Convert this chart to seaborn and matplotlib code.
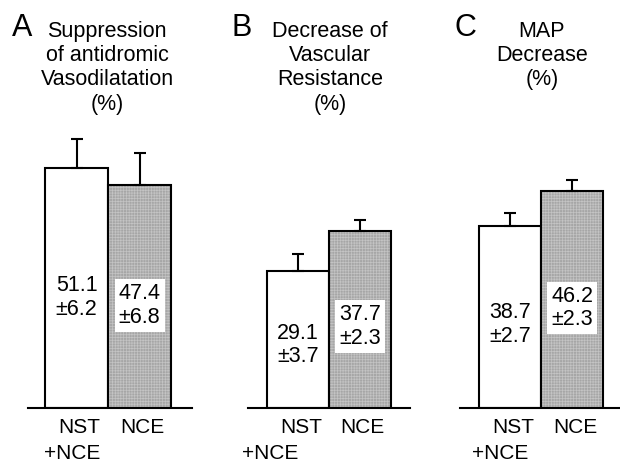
import matplotlib
matplotlib.use('Agg')
import matplotlib.pyplot as plt
import seaborn as sns
from matplotlib.colors import to_rgba

# Datos por panel
letras = ['A', 'B', 'C']
titulos = ['Suppression\nof antidromic\nVasodilatation\n(%)',
           'Decrease of\nVascular\nResistance\n(%)',
           'MAP\nDecrease\n(%)']
grupos = ['NST+NCE', 'NCE']
medias_A = [51.1, 47.4]
sem_A = [6.2, 6.8]
medias_B = [29.1, 37.7]
sem_B = [3.7, 2.3]
medias_C = [38.7, 46.2]
sem_C = [2.7, 2.3]

medias = [medias_A, medias_B, medias_C]
sems = [sem_A, sem_B, sem_C]

sns.set_style('white')
plt.rcParams['font.family'] = ['Liberation Sans', 'DejaVu Sans']
plt.rcParams['text.color'] = 'black'
plt.rcParams['hatch.linewidth'] = 0.5

W, H = 620, 463
fig = plt.figure(figsize=(W / 100, H / 100), dpi=100)

# layout en pixeles: (izquierda, ancho, xlim)
paneles = [(28, 164, (-0.77, 1.83)),
           (248, 162, (-0.81, 1.81)),
           (460, 160, (-0.81, 1.77))]
centros_titulo = [107, 330, 542]
x_letra = [12, 231, 454]
off_nce2 = [-3, -20, -7]  # desplazamiento de "+NCE" (pt)

base_px = 408
px_por_unidad = 4.7
ymax = 60

for i in range(3):
    left, width, xl = paneles[i]
    ax = fig.add_axes([left / W, (H - base_px) / H, width / W,
                       ymax * px_por_unidad / H])
    sns.barplot(x=grupos, y=medias[i], hue=grupos, palette=['white', '#a6a6a6'],
                legend=False, width=1.0, edgecolor='black', linewidth=1.5,
                saturation=1, ax=ax)
    gris = ax.patches[1]
    gris.set_hatch('++++++')
    gris._hatch_color = to_rgba('#c4c4c4')

    ax.errorbar([0, 1], medias[i], yerr=[[0, 0], sems[i]], fmt='none',
                ecolor='black', elinewidth=1.5, capsize=4.5, capthick=1.5,
                clip_on=False, zorder=5)

    for j, (m, s) in enumerate(zip(medias[i], sems[i])):
        caja = None
        if j == 1:
            caja = dict(facecolor='white', edgecolor='none', pad=3)
        ax.text(j, m * 0.46, f'{m}\n±{s}', ha='center', va='center',
                fontsize=15.5, linespacing=1.15, bbox=caja, zorder=6)

    ax.set_xlim(*xl)
    ax.set_ylim(0, ymax)
    ax.set_xticks([])
    ax.set_yticks([])
    ax.set_xlabel('')
    ax.set_ylabel('')
    for lado in ['top', 'left', 'right']:
        ax.spines[lado].set_visible(False)
    ax.spines['bottom'].set_linewidth(1.5)
    ax.spines['bottom'].set_color('black')

    # etiquetas de grupo
    ax.annotate('NST', xy=(0, 0), xycoords=('data', 'axes fraction'),
                xytext=(2, -7.5), textcoords='offset points',
                ha='center', va='top', fontsize=15)
    ax.annotate('+NCE', xy=(0, 0), xycoords=('data', 'axes fraction'),
                xytext=(off_nce2[i], -26), textcoords='offset points',
                ha='center', va='top', fontsize=15)
    ax.annotate('NCE', xy=(1, 0), xycoords=('data', 'axes fraction'),
                xytext=(2, -7.5), textcoords='offset points',
                ha='center', va='top', fontsize=15)

    fig.text(centros_titulo[i] / W, 1 - 21 / H, titulos[i], ha='center',
             va='top', fontsize=15.5, linespacing=1.2, multialignment='center')
    fig.text(x_letra[i] / W, 1 - 36 / H, letras[i], ha='left',
             va='baseline', fontsize=22)

fig.savefig('out.png', dpi=100, facecolor='white')
plt.close(fig)
